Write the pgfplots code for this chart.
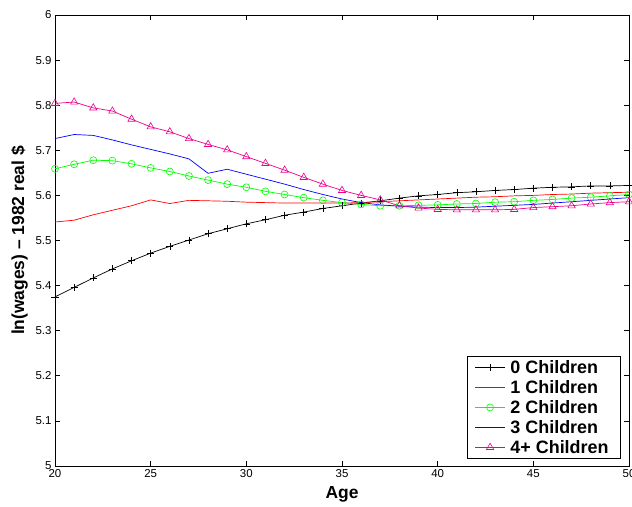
\documentclass[border=0pt]{standalone}
\usepackage{pgfplots}
\pgfplotsset{compat=1.18}
\usepackage{pgfplotstable}
\usepackage{fontspec}
\setmainfont{Liberation Sans}
\pgfplotstableread{
age c0 c1 c2 c3 c4
20 5.375 5.541 5.659 5.726 5.804
21 5.396 5.545 5.669 5.735 5.807
22 5.417 5.557 5.678 5.733 5.794
23 5.437 5.567 5.677 5.723 5.787
24 5.455 5.577 5.670 5.712 5.769
25 5.472 5.590 5.661 5.702 5.752
26 5.487 5.582 5.653 5.692 5.741
27 5.501 5.589 5.643 5.681 5.726
28 5.515 5.588 5.634 5.649 5.713
29 5.526 5.587 5.625 5.658 5.701
30 5.537 5.585 5.618 5.647 5.686
31 5.546 5.584 5.609 5.636 5.671
32 5.556 5.583 5.602 5.625 5.656
33 5.563 5.583 5.595 5.613 5.640
34 5.571 5.583 5.589 5.602 5.625
35 5.577 5.583 5.584 5.592 5.611
36 5.583 5.584 5.580 5.584 5.600
37 5.588 5.586 5.577 5.579 5.590
38 5.594 5.588 5.577 5.576 5.577
39 5.599 5.590 5.578 5.574 5.572
40 5.602 5.592 5.579 5.573 5.569
41 5.606 5.594 5.581 5.573 5.568
42 5.608 5.596 5.582 5.574 5.568
43 5.611 5.597 5.585 5.576 5.568
44 5.613 5.599 5.586 5.578 5.569
45 5.616 5.600 5.589 5.580 5.573
46 5.618 5.602 5.591 5.583 5.575
47 5.619 5.603 5.594 5.586 5.577
48 5.621 5.605 5.596 5.589 5.581
49 5.621 5.606 5.599 5.592 5.584
50 5.622 5.607 5.602 5.595 5.586
}\datatable
\begin{document}
\begin{tikzpicture}
\begin{axis}[
  name=ax,
  scale only axis,
  width=574bp, height=451bp,
  xmin=20, xmax=50, ymin=5, ymax=6,
  xtick={20,25,...,50},
  ytick={5,5.1,...,6.01},
  yticklabel style={/pgf/number format/fixed,/pgf/number format/precision=1},
  /pgf/number format/assume math mode=true,
  tick align=inside,
  major tick length=5bp,
  axis line style={line width=0.9bp},
  tick style={line width=0.6bp, black},
  ticklabel style={font=\fontsize{11.5}{13}\selectfont},
  xtick pos=both, ytick pos=both,
  xlabel={\bfseries Age},
  ylabel={\bfseries ln(wages) – 1982 real \$},
  label style={font=\fontsize{17.5}{20}\selectfont},
  xlabel style={yshift=-2bp},
  ylabel style={yshift=1bp},
  every axis plot/.append style={line width=0.7bp},
  legend cell align=left,
  legend style={at={(1,0)}, anchor=south east, xshift=-8bp, yshift=7bp,
    font=\fontsize{18}{20}\selectfont\bfseries, draw=black, line width=0.8bp,
    row sep=1.5bp, inner xsep=7bp, inner ysep=2bp,
    nodes={inner xsep=5bp}},
  legend image code/.code={\draw[mark repeat=2,mark phase=2] plot coordinates {(0bp,0bp) (15bp,0bp) (30bp,0bp)};},
  mark size=3.5bp,
]
\addplot[black, mark=+, mark options={line width=0.6bp}] table[x=age,y=c0]{\datatable};
\addlegendentry{0 Children}
\addplot[red, no marks] table[x=age,y=c1]{\datatable};
\addlegendentry{1 Children}
\addplot[green, mark=o, mark options={line width=0.6bp}] table[x=age,y=c2]{\datatable};
\addlegendentry{2 Children}
\addplot[blue, no marks] table[x=age,y=c3]{\datatable};
\addlegendentry{3 Children}
\addplot[magenta, mark=triangle, mark size=4.2bp, mark options={line width=0.6bp}] table[x=age,y=c4]{\datatable};
\addlegendentry{4+ Children}
\end{axis}
\pgfresetboundingbox
\useasboundingbox ([xshift=-55bp,yshift=-41bp]ax.south west) rectangle ([xshift=3bp,yshift=15bp]ax.north east);
\end{tikzpicture}
\end{document}
